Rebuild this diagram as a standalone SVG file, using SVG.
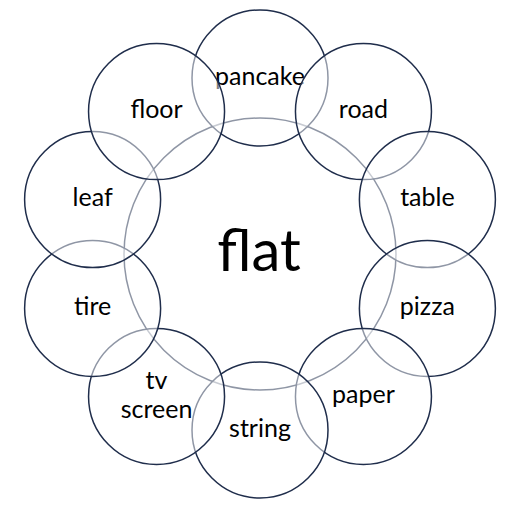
<svg xmlns="http://www.w3.org/2000/svg" width="520" height="520" viewBox="0 0 520 520">
<style>
  .c { fill: #ffffff; fill-opacity: 0.5; stroke: #1f2d4b; stroke-width: 1.5; }
  .hub { fill: #ffffff; stroke: #1f2d4b; stroke-width: 1.5; }
  text { font-family: Lato, "Open Sans", sans-serif; fill: #000000; text-anchor: middle; }
  .lbl { font-size: 25px; }
  .big { font-size: 58px; }
</style>
<rect width="520" height="520" fill="#ffffff"/>
<g id="center">
  <circle class="hub" cx="260" cy="254" r="136"/>
  <text class="big" x="259" y="271">flat</text>
</g>
<g id="pancake">
  <circle class="c" cx="260" cy="78" r="68"/>
  <text class="lbl" x="260" y="84.5">pancake</text>
</g>
<g id="road">
  <circle class="c" cx="363.45" cy="111.61" r="68"/>
  <text class="lbl" x="363.45" y="118">road</text>
</g>
<g id="table">
  <circle class="c" cx="427.39" cy="199.61" r="68"/>
  <text class="lbl" x="427.39" y="206">table</text>
</g>
<g id="pizza">
  <circle class="c" cx="427.39" cy="308.39" r="68"/>
  <text class="lbl" x="427.39" y="315">pizza</text>
</g>
<g id="paper">
  <circle class="c" cx="363.45" cy="396.39" r="68"/>
  <text class="lbl" x="363.45" y="403">paper</text>
</g>
<g id="string">
  <circle class="c" cx="260" cy="430" r="68"/>
  <text class="lbl" x="260" y="436.5">string</text>
</g>
<g id="tv-screen">
  <circle class="c" cx="156.55" cy="396.39" r="68"/>
  <text class="lbl" x="156.55" y="389">tv</text>
  <text class="lbl" x="156.55" y="418">screen</text>
</g>
<g id="tire">
  <circle class="c" cx="92.61" cy="308.39" r="68"/>
  <text class="lbl" x="92.61" y="315">tire</text>
</g>
<g id="leaf">
  <circle class="c" cx="92.61" cy="199.61" r="68"/>
  <text class="lbl" x="92.61" y="206">leaf</text>
</g>
<g id="floor">
  <circle class="c" cx="156.55" cy="111.61" r="68"/>
  <text class="lbl" x="156.55" y="118">floor</text>
</g>
<g id="connectors"></g>
</svg>
